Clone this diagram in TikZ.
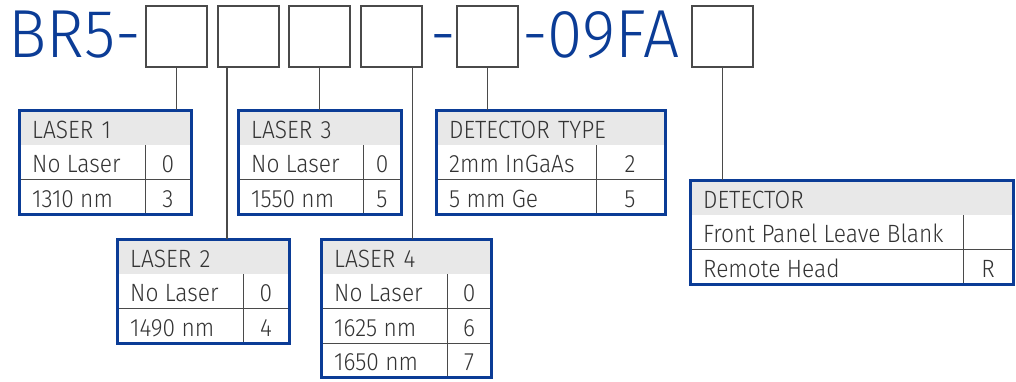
\documentclass[tikz,border=0pt]{standalone}
\usepackage{fontspec}
\setmainfont{Fira Sans Light}
\newfontfamily\titlefamily{Fira Sans Light}[FakeStretch=0.94]
\newfontfamily\tabfamily{Fira Sans Light}[FakeStretch=0.91]
\usepackage{tikz}
\definecolor{specblue}{HTML}{0B3C96}
\definecolor{headgray}{HTML}{E8E8E8}
\definecolor{linegray}{HTML}{4A4A4A}
\definecolor{textgray}{HTML}{333333}
\newcommand{\tabfont}{\tabfamily\fontsize{25}{27}\selectfont}

\begin{document}
\begin{tikzpicture}[x=1pt, y=-1pt,
  slot/.style={draw=linegray, line width=1.5pt, minimum size=61pt, inner sep=0pt, anchor=north west},
  big/.style={text=specblue, font=\titlefamily\fontsize{68}{70}\selectfont, inner sep=0pt, anchor=base west},
  head/.style={fill=headgray, minimum height=35pt, inner xsep=13pt, inner ysep=0pt, anchor=north west,
    align=left, font=\tabfont, text=textgray, text height=21pt, text depth=0pt},
  cell/.style={anchor=west, inner sep=0pt, font=\tabfont, text=textgray, text height=21pt, text depth=0pt},
  code/.style={inner sep=0pt, font=\tabfont, text=textgray, text height=21pt, text depth=0pt},
  frame/.style={draw=specblue, line width=3pt},
  rule/.style={draw=linegray, line width=1pt},
  link/.style={draw=linegray, line width=1.5pt}]

\useasboundingbox (0,0) rectangle (1016,381);

% part number
\node[big] (pre) at (8,57) {BR5-};
\node[big] (dash) at (430,57) {-};
\node[big] (suf) at (522,57) {-09FA};

\node[slot] (b1) at (145,5) {};
\node[slot] (b2) at (217,5) {};
\node[slot] (b3) at (288,5) {};
\node[slot] (b4) at (360,5) {};
\node[slot] (b5) at (456,5) {};
\node[slot] (b6) at (691,5) {};

% laser 1
\node[head, text width=146pt] (l1) at (19,110) {LASER 1};
\draw[rule] (19,179.5) -- (191,179.5) (145,145) -- (145,214);
\node[cell] (l1a) at (32,162.25) {No Laser};
\node[code] (l1ac) at (168,162.25) {0};
\node[cell] (l1b) at (32,196.75) {1310 nm};
\node[code] (l1bc) at (168,196.75) {3};
\draw[frame] (19,110) rectangle (191,214);

% laser 3
\node[head, text width=137pt] (l3) at (238,110) {LASER 3};
\draw[rule] (238,179.5) -- (401,179.5) (363,145) -- (363,214);
\node[cell] (l3a) at (251,162.25) {No Laser};
\node[code] (l3ac) at (382,162.25) {0};
\node[cell] (l3b) at (251,196.75) {1550 nm};
\node[code] (l3bc) at (382,196.75) {5};
\draw[frame] (238,110) rectangle (401,214);

% laser 2
\node[head, text width=146pt] (l2) at (117,239) {LASER 2};
\draw[rule] (117,308.5) -- (289,308.5) (243,274) -- (243,343);
\node[cell] (l2a) at (130,291.25) {No Laser};
\node[code] (l2ac) at (266,291.25) {0};
\node[cell] (l2b) at (130,325.75) {1490 nm};
\node[code] (l2bc) at (266,325.75) {4};
\draw[frame] (117,239) rectangle (289,343);

% laser 4
\node[head, text width=144pt] (l4) at (321,239) {LASER 4};
\draw[rule] (321,308.5) -- (491,308.5) (321,343) -- (491,343) (447,274) -- (447,377.5);
\node[cell] (l4a) at (334,291.25) {No Laser};
\node[code] (l4ac) at (469,291.25) {0};
\node[cell] (l4b) at (334,325.75) {1625 nm};
\node[code] (l4bc) at (469,325.75) {6};
\node[cell] (l4c) at (334,360.25) {1650 nm};
\node[code] (l4cc) at (469,360.25) {7};
\draw[frame] (321,239) rectangle (491,377.5);

% detector type
\node[head, text width=203pt] (dt) at (436,110) {DETECTOR TYPE};
\draw[rule] (436,179.5) -- (665,179.5) (596,145) -- (596,214);
\node[cell] (dta) at (449,162.25) {2mm InGaAs};
\node[code] (dtac) at (630,162.25) {2};
\node[cell] (dtb) at (449,196.75) {5 mm Ge};
\node[code] (dtbc) at (630,196.75) {5};
\draw[frame] (436,110) rectangle (665,214);

% detector
\node[head, text width=297pt] (dr) at (690,180) {DETECTOR};
\draw[rule] (690,249.5) -- (1013,249.5) (963,215) -- (963,284);
\node[cell] (dra) at (703,232.25) {Front Panel Leave Blank};
\node[cell] (drb) at (703,266.75) {Remote Head};
\node[code] (drbc) at (988,266.75) {R};
\draw[frame] (690,180) rectangle (1013,284);

% connectors
\coordinate (b2x) at ([xshift=10pt]b2.south west);
\coordinate (b4x) at ([xshift=-10pt]b4.south east);
\draw[link] (b1.south) -- (b1.south |- l1.north);
\draw[link] (b2x) -- (b2x |- l2.north);
\draw[link] (b3.south) -- (b3.south |- l3.north);
\draw[link] (b4x) -- (b4x |- l4.north);
\draw[link] (b5.south) -- (b5.south |- dt.north);
\draw[link] (b6.south) -- (b6.south |- dr.north);

\end{tikzpicture}
\end{document}
